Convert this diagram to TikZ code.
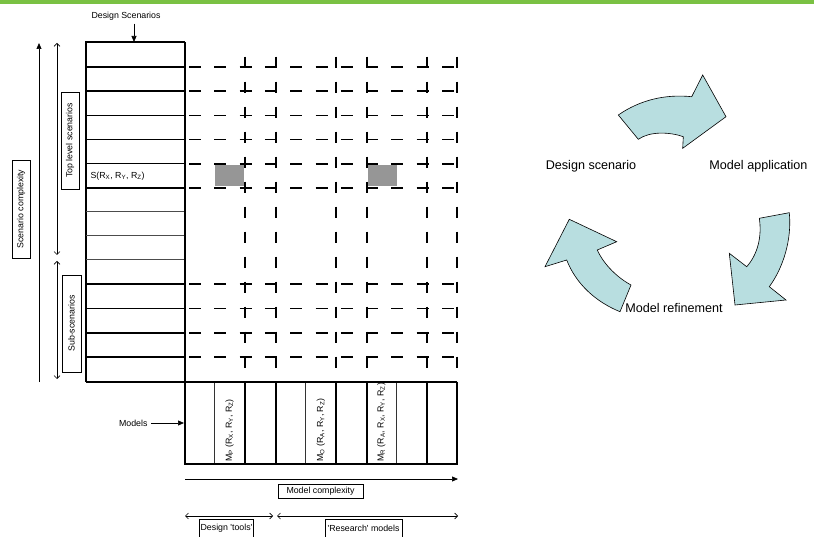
\documentclass[tikz,border=0pt]{standalone}
\usepackage{fontspec}
\setmainfont{Liberation Sans}
\usepackage{tikz}
\usetikzlibrary{arrows.meta, positioning}
\definecolor{barGreen}{RGB}{122,193,67}
\definecolor{cycleCyan}{RGB}{184,222,224}
\definecolor{cellGray}{RGB}{150,150,150}

\begin{document}
\begin{tikzpicture}[
    x=1pt, y=-1pt,
    small/.style={font=\fontsize{8.8}{10}\selectfont},
    big/.style={font=\fontsize{12.6}{14}\selectfont},
    label box/.style={draw, line width=0.6pt, small, inner sep=1pt},
    side box/.style={label box, rotate=90, minimum width=97pt, minimum height=18pt},
    thick line/.style={line width=1.8pt},
    mid line/.style={line width=1.2pt},
    thin line/.style={line width=0.8pt, black!70},
    hdash/.style={line width=1.8pt, dash pattern=on 12pt off 13.3pt, dash phase=21.3pt},
    vdash/.style={line width=1.8pt, dash pattern=on 11pt off 14pt},
    filled arrow/.style={->, >={Triangle[length=6pt,width=5pt]}, line width=0.7pt},
    open arrow/.style={<->, >={Straight Barb[length=3pt,width=6pt]}, line width=0.7pt},
    cycle arrow/.style={fill=cycleCyan, draw, line width=0.6pt, line join=miter},
    model label/.style={small, rotate=90, anchor=west, inner sep=0pt}
]
\useasboundingbox (0,0) rectangle (814,537);

% Top bar
\fill[barGreen] (0,0) rectangle (814,4);

% Scenario column
\draw[mid line] (185,42) -- (86,42) -- (86,382);
\foreach \y in {211.7,235.5,259.5}
    \draw[thin line] (86,\y) -- (185,\y);
\foreach \y in {115.5,139.5,163.7}
    \draw[mid line] (86,\y) -- (185,\y);
\foreach \y in {67,91.3,187.7,284,308.5,333,357.3}
    \draw[thick line] (86,\y) -- (185,\y);

% Dashed grid
\foreach \y in {67,91.3,115.5,139.5,163.7,187.7,284,308.5,333,357.3}
    \draw[hdash] (185,\y) -- (457,\y);
\foreach \x in {245,276,336,366.7,426.7,457}
    \draw[vdash] (\x,56.7) -- (\x,382);

% Selected cells
\fill[cellGray] (215,165) rectangle (244,186.5);
\fill[cellGray] (368,165) rectangle (397,186.5);

% Models box
\foreach \x in {214.3,305.7,396}
    \draw[line width=0.9pt, black!80] (\x,382) -- (\x,464);
\foreach \x in {245,276,336,366.7,426.7}
    \draw[thick line] (\x,382) -- (\x,464);
\draw[thick line] (185,42) -- (185,464) -- (457,464) -- (457,382);
\draw[thick line] (86,382) -- (457,382);

% Column labels
\node[small] (dscen) at (126,16) {Design Scenarios};
\coordinate (colTop) at (134,42);
\draw[filled arrow] (dscen.south -| colTop) -- (colTop);

\node[small, anchor=west] (srow) at (87,176) {S(R\textsubscript{X}, R\textsubscript{Y}, R\textsubscript{Z})};

% Side arrows
\coordinate (scTop) at (39,43);
\coordinate (scBot) at (39,382);
\draw[filled arrow] (scBot) -- (scTop);
\node[side box, minimum width=98pt] (scbox) at (21,209) {Scenario complexity};

\coordinate (tlTop) at (57,43);
\coordinate (tlBot) at (57,255);
\draw[open arrow] (tlTop) -- (tlBot);
\node[side box] (tlbox) at (70,140.5) {Top level scenarios};

\coordinate (ssTop) at (57,261);
\coordinate (ssBot) at (57,379);
\draw[open arrow] (ssTop) -- (ssBot);
\node[side box, minimum height=19pt] (ssbox) at (71.5,323.5) {Sub-scenarios};

% Models
\node[small, anchor=east] (models) at (151,423) {Models};
\coordinate (mboxIn) at (184,423);
\draw[filled arrow] (models) -- (mboxIn);

\node[model label] (mp) at (229.7,462) {M\textsubscript{P} (R\textsubscript{X}, R\textsubscript{Y}, R\textsubscript{Z})};
\node[model label] (mo) at (320.9,462) {M\textsubscript{O} (R\textsubscript{A}, R\textsubscript{Y}, R\textsubscript{Z})};
\node[model label] (mr) at (381.4,462) {M\textsubscript{R} (R\textsubscript{A}, R\textsubscript{X}, R\textsubscript{Y}, R\textsubscript{Z})};

% Complexity arrows
\coordinate (mcL) at (185,479);
\coordinate (mcR) at (458,479);
\draw[filled arrow] (mcL) -- (mcR);
\node[label box, minimum width=85pt, minimum height=14pt] (mcbox) at (320.5,491) {Model complexity};

\coordinate (dtL) at (185,516);
\coordinate (dtR) at (273,516);
\draw[open arrow] (dtL) -- (dtR);
\node[label box, minimum width=53pt, minimum height=18pt] (dtbox) at (226.5,528) {Design \textquotesingle tools\textquotesingle};

\coordinate (rmL) at (277,516);
\coordinate (rmR) at (458,516);
\draw[open arrow] (rmL) -- (rmR);
\node[label box, minimum width=77pt, minimum height=18pt] (rmbox) at (363.5,528) {\textquotesingle Research\textquotesingle{} models};

% Cycle
\node[big] (dsc) at (591,166) {Design scenario};
\node[big] (mapp) at (758.5,166) {Model application};
\node[big] (mref) at (674,308) {Model refinement};

\draw[cycle arrow] (618.3,115) .. controls (640,100) and (665,94) .. (691.7,96.7)
    -- (702.7,75) -- (726,116.7) -- (682.7,148.3) -- (683.3,136.7)
    .. controls (670,132) and (650,131) .. (638.3,139.3) -- cycle;
\draw[cycle arrow] (789.3,212.7) -- (759.3,218.3)
    .. controls (762,236) and (758,254) .. (746.7,266.7)
    -- (729.3,253.3) -- (735,305) -- (786,300) -- (769.3,286.7)
    .. controls (783,268) and (792,240) .. (789.3,212.7) -- cycle;
\draw[cycle arrow] (620,311.7) -- (631,285)
    .. controls (618,278) and (604,265) .. (597.3,250)
    -- (616.7,241.7) -- (569.3,219.3) -- (545,266.7) -- (566.7,260)
    .. controls (576,284) and (596,302) .. (620,311.7) -- cycle;

\end{tikzpicture}
\end{document}
